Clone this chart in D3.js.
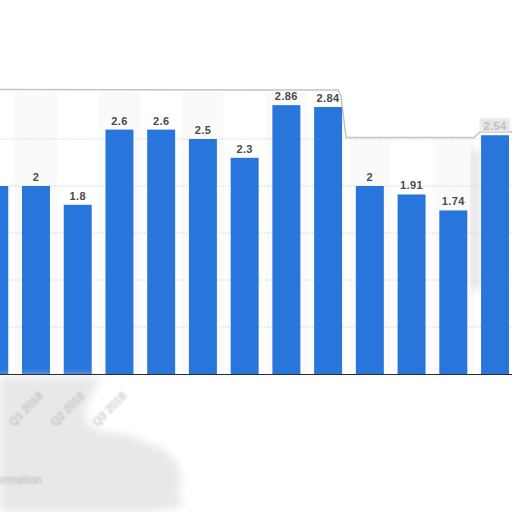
<!DOCTYPE html>
<html><head><meta charset="utf-8">
<script src="https://cdn.jsdelivr.net/npm/d3@7"></script>
<style>body{margin:0;background:#fff}svg{display:block}</style>
</head><body>
<svg id="c" width="512" height="512"></svg>
<script>
const categories = ["Q4 2017","Q1 2018","Q2 2018","Q3 2018","Q4 2018","Q1 2019","Q2 2019","Q3 2019","Q4 2019","Q1 2020","Q2 2020","Q3 2020","Q4 2020"];
const values = [2, 2, 1.8, 2.6, 2.6, 2.5, 2.3, 2.86, 2.84, 2, 1.91, 1.74, 2.54];
const valueLabels = ["2","2","1.8","2.6","2.6","2.5","2.3","2.86","2.84","2","1.91","1.74","2.54"];
const shownTickLabels = ["", "Q1 2018", "Q2 2018", "Q3 2018"];
const gridValues = [0.5, 1, 1.5, 2, 2.5];

const svg = d3.select("#c");
const x = d3.scaleBand().domain(categories).range([-26.6, 515.9]).paddingInner(0.33).paddingOuter(0.165);
const y = d3.scaleLinear().domain([0, 3]).range([374, 92]);
const defs = svg.append("defs");
defs.append("filter").attr("id","blur3").attr("x","-20%").attr("y","-20%").attr("width","140%").attr("height","140%")
  .append("feGaussianBlur").attr("stdDeviation", 4);
defs.append("filter").attr("id","blur1").append("feGaussianBlur").attr("stdDeviation", 0.8);

// alternating column bands
svg.append("g").selectAll("rect").data(categories.filter((d,i)=>i%2===1)).join("rect")
  .attr("x", d => x(d) + x.bandwidth()/2 - x.step()/2).attr("width", x.step())
  .attr("y", y(3)).attr("height", y(0) - y(3)).attr("fill", "#fafafa");

// gridlines
svg.append("g").selectAll("line").data(gridValues).join("line")
  .attr("x1", 0).attr("x2", 512).attr("y1", d => y(d)).attr("y2", d => y(d))
  .attr("stroke", "#d4d4d4").attr("stroke-dasharray", "1.5,1.5");

// top frame (erased region above)
svg.append("path").attr("d", "M0,0H512V131H480L474,137.5H346L340,90H0Z").attr("fill", "#fff");
svg.append("path").attr("d", "M0,89.5L338,90L341,96L346,137.5L474,137.5L480,132L512,132")
  .attr("fill", "none").attr("stroke", "#c4c4c4").attr("stroke-width", 1.5);

// soft shadow near last bar
svg.append("rect").attr("x", 472).attr("y", 150).attr("width", 7).attr("height", 140)
  .attr("fill", "#dcdcdc").attr("filter", "url(#blur3)");

// bars
svg.append("g").selectAll("rect").data(values).join("rect")
  .attr("x", (d,i) => x(categories[i])).attr("width", x.bandwidth())
  .attr("y", d => y(d)).attr("height", d => y(0) - y(d)).attr("fill", "#2876dc");

// value labels
const last = values.length - 1;
svg.append("rect").attr("x", x(categories[last]) - 1).attr("y", y(values[last]) - 17)
  .attr("width", x.bandwidth() + 2).attr("height", 13).attr("fill", "#e6e6e6").attr("filter","url(#blur1)");
svg.append("g").selectAll("text").data(values).join("text")
  .attr("x", (d,i) => x(categories[i]) + x.bandwidth()/2).attr("y", d => y(d) - 5)
  .attr("text-anchor", "middle").attr("font-family", "Liberation Sans, Arial, sans-serif")
  .attr("font-weight", "bold").attr("font-size", 11).attr("letter-spacing", 0.4)
  .attr("fill", (d,i) => i === last ? "#c0c0c0" : "#4a4a4a")
  .text((d,i) => valueLabels[i]);

// bottom smudge
svg.append("path").attr("d", "M0,377H100L96,386L88,402L84,420L100,432L126,434L142,441L165,450L176,462L181,476L179,494L183,506L150,512H0Z")
  .attr("fill", "#e8e8e8").attr("filter", "url(#blur3)");

// baseline
svg.append("line").attr("x1", 0).attr("x2", 512).attr("y1", 374.5).attr("y2", 374.5).attr("stroke", "#2b2b2b").attr("stroke-width", 1);

// x axis tick labels
const xAxis = d3.axisBottom(x).tickSize(0).tickFormat((d,i) => shownTickLabels[i] || "");
const gx = svg.append("g").attr("transform", "translate(0,386)").call(xAxis);
gx.select(".domain").remove();
gx.selectAll("text").attr("transform", "rotate(-45)").attr("text-anchor", "end")
  .attr("dx", "-0.2em").attr("dy", "0.9em")
  .attr("font-family", "Liberation Sans, Arial, sans-serif").attr("font-size", 11)
  .attr("fill", "#b0b0b0").attr("filter", "url(#blur1)");

svg.append("text").attr("x", 42).attr("y", 484).attr("text-anchor", "end")
  .attr("font-family", "Liberation Sans, Arial, sans-serif").attr("font-size", 12)
  .attr("fill", "#b8b8b8").attr("filter", "url(#blur1)").text("Additional Information");
</script>
</body></html>
